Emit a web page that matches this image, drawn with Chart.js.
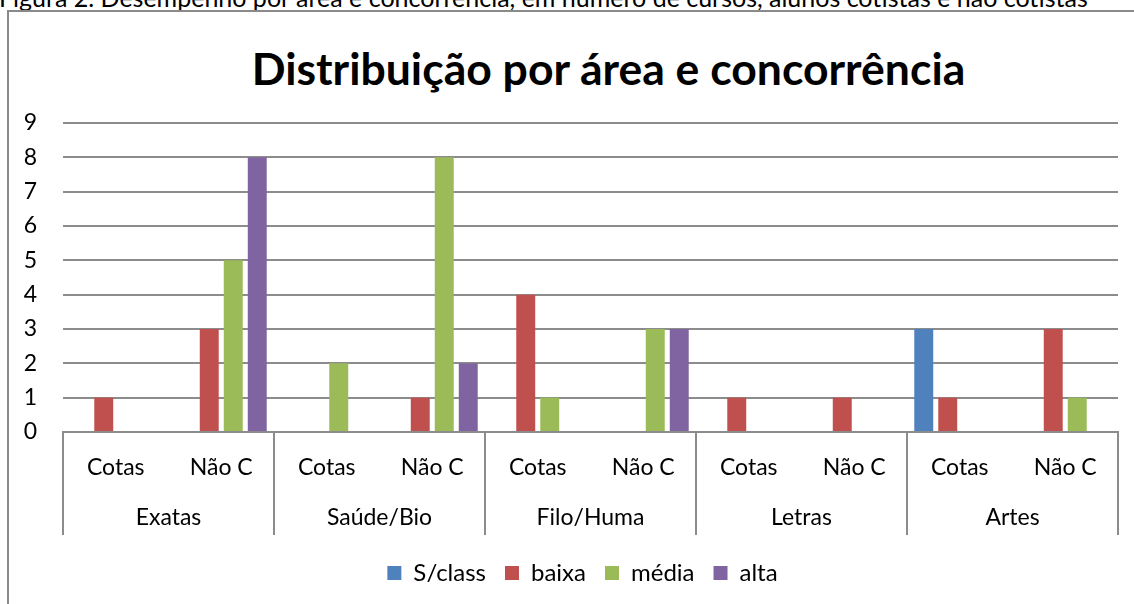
<!DOCTYPE html>
<html>
<head>
<meta charset="utf-8">
<script src="https://cdn.jsdelivr.net/npm/chart.js@4.4.1/dist/chart.umd.min.js"></script>
<style>
  html, body { margin: 0; padding: 0; background: #fff; width: 1134px; height: 604px; overflow: hidden; }
  #frame { position: absolute; left: 7px; top: 10px; width: 1300px; height: 700px; border: 2px solid #8a8a8a; box-sizing: border-box; }
  #caption { position: absolute; left: -1px; top: -15px; font: 25px/25px Lato, sans-serif; color: #000; white-space: nowrap; }
  #title { position: absolute; left: 0; width: 1217px; top: 46px; text-align: center; font: bold 44.5px/44.5px Lato, sans-serif; color: #000; white-space: nowrap; }
  #c { position: absolute; left: 0; top: 0; }
</style>
</head>
<body>
<div id="caption">Figura 2. Desempenho por área e concorrência, em número de cursos, alunos cotistas e não cotistas</div>
<div id="frame"></div>
<div id="title">Distribuição por área e concorrência</div>
<canvas id="c" width="1134" height="604"></canvas>
<script>
const groups = ['Exatas', 'Saúde/Bio', 'Filo/Huma', 'Letras', 'Artes'];
const subcats = ['Cotas', 'Não C', 'Cotas', 'Não C', 'Cotas', 'Não C', 'Cotas', 'Não C', 'Cotas', 'Não C'];
const yTicks = [0, 1, 2, 3, 4, 5, 6, 7, 8, 9];
const seriesNames = ['S/class', 'baixa', 'média', 'alta'];
const sclass = [0, 0, 0, 0, 0, 0, 0, 0, 3, 0];
const baixa  = [1, 3, 0, 1, 4, 0, 1, 1, 1, 3];
const media  = [0, 5, 2, 8, 1, 3, 0, 0, 0, 1];
const alta   = [0, 8, 0, 2, 0, 3, 0, 0, 0, 0];
const colors = ['#4F81BD', '#C0504D', '#9BBB59', '#8064A2'];

const GRID = '#8c8c8c';
const FONT = 'Lato, sans-serif';

const values = [sclass, baixa, media, alta];
const datasets = seriesNames.map((n, i) => ({
  label: n,
  data: values[i],
  backgroundColor: colors[i],
  borderWidth: 0,
  categoryPercentage: 0.91,
  barPercentage: 0.79
}));

const legendShift = {
  id: 'legendShift',
  afterLayout(chart) {
    if (chart.legend) { chart.legend.left -= 16; }
  }
};

new Chart(document.getElementById('c'), {
  type: 'bar',
  data: { labels: subcats, datasets },
  plugins: [legendShift],
  options: {
    responsive: false,
    devicePixelRatio: 1,
    animation: false,
    layout: { padding: { top: 123, left: 0, right: 16, bottom: 9 } },
    plugins: {
      title: { display: false },
      tooltip: { enabled: false },
      legend: {
        position: 'bottom',
        fullSize: false,
        labels: {
          boxWidth: 14,
          boxHeight: 14,
          padding: 19,
          color: '#000',
          font: { family: FONT, size: 24 }
        }
      }
    },
    scales: {
      y: {
        min: yTicks[0],
        max: yTicks[yTicks.length - 1],
        afterBuildTicks: (s) => { s.ticks = yTicks.map(v => ({ value: v })); },
        afterFit: (s) => { s.width = 63; },
        border: { display: false },
        grid: { color: GRID, lineWidth: 2, drawTicks: false },
        ticks: { padding: 26, color: '#000', font: { family: FONT, size: 23 } }
      },
      x: {
        offset: true,
        afterFit: (s) => { s.height = 50; },
        border: { display: true, color: GRID, width: 2 },
        grid: {
          offset: true,
          drawOnChartArea: false,
          drawTicks: true,
          tickLength: 103,
          lineWidth: 2,
          color: (ctx) => (ctx.type !== 'tick' || ctx.index % 2 === 0) ? GRID : 'rgba(0,0,0,0)'
        },
        ticks: { padding: -81, autoSkip: false, maxRotation: 0, color: '#000', font: { family: FONT, size: 23 } }
      },
      x2: {
        type: 'category',
        position: 'bottom',
        labels: groups,
        offset: true,
        afterFit: (s) => { s.height = 60; },
        border: { display: false },
        grid: { display: false, drawTicks: false, offset: true },
        ticks: { padding: 22, autoSkip: false, maxRotation: 0, color: '#000', font: { family: FONT, size: 23 } }
      }
    }
  }
});
</script>
</body>
</html>
